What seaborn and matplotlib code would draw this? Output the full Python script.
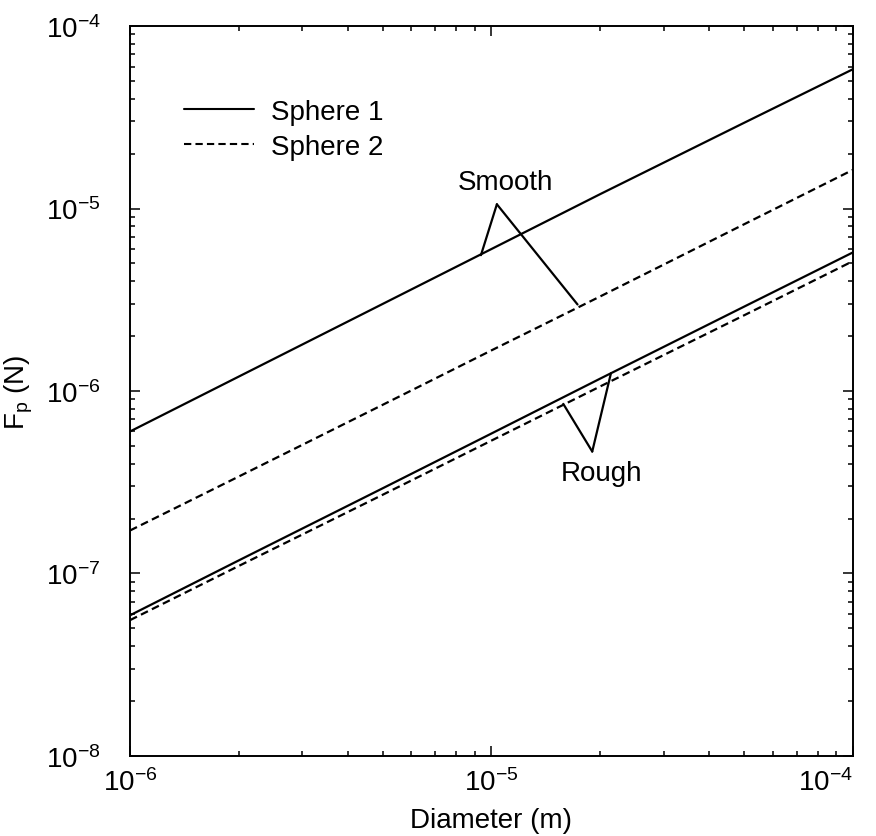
import numpy as np
import pandas as pd
import matplotlib
matplotlib.use('Agg')
from matplotlib import pyplot as plt
from matplotlib.lines import Line2D
import seaborn as sns

sns.set_style('ticks')
plt.rcParams['font.family'] = ['Liberation Sans', 'DejaVu Sans']
plt.rcParams['mathtext.fontset'] = 'custom'
plt.rcParams['mathtext.rm'] = 'Liberation Sans'
plt.rcParams['mathtext.it'] = 'Liberation Sans:italic'
plt.rcParams['text.color'] = 'black'
plt.rcParams['axes.labelcolor'] = 'black'
plt.rcParams['xtick.color'] = 'black'
plt.rcParams['ytick.color'] = 'black'

# values (diameter in m, force in N)
diameter = [1e-6, 2e-6, 5e-6, 1e-5, 2e-5, 5e-5, 1e-4]
smooth_sphere1 = [6.0e-7, 1.2e-6, 3.0e-6, 6.0e-6, 1.2e-5, 2.95e-5, 5.8e-5]
smooth_sphere2 = [1.72e-7, 3.4e-7, 8.4e-7, 1.67e-6, 3.3e-6, 8.2e-6, 1.63e-5]
rough_sphere1 = [5.9e-8, 1.18e-7, 2.93e-7, 5.85e-7, 1.17e-6, 2.9e-6, 5.75e-6]
rough_sphere2 = [5.55e-8, 1.1e-7, 2.7e-7, 5.35e-7, 1.06e-6, 2.6e-6, 5.15e-6]

sphere_names = ['Sphere 1', 'Sphere 2']
x_ticks = [1e-6, 1e-5, 1e-4]
x_ticklabels = [r'10$^{-6}$', r'10$^{-5}$', r'10$^{-4}$']
y_ticks = [1e-8, 1e-7, 1e-6, 1e-5, 1e-4]
y_ticklabels = [r'10$^{-8}$', r'10$^{-7}$', r'10$^{-6}$', r'10$^{-5}$', r'10$^{-4}$']

# annotation anchors (text position, apex of the leader lines, points on curves)
smooth_text = (1.09e-5, 1.39e-5)
smooth_apex = (1.035e-5, 1.055e-5)
smooth_targets = [(9.35e-6, 5.55e-6), (1.73e-5, 2.98e-6)]
rough_text = (2.01e-5, 3.57e-7)
rough_apex = (1.9e-5, 4.66e-7)
rough_targets = [(1.58e-5, 8.5e-7), (2.14e-5, 1.25e-6)]

rows = []
for surface, s1, s2 in [('smooth', smooth_sphere1, smooth_sphere2),
                        ('rough', rough_sphere1, rough_sphere2)]:
    for d, f in zip(diameter, s1):
        rows.append(dict(diameter=d, force=f, sphere='Sphere 1', surface=surface))
    for d, f in zip(diameter, s2):
        rows.append(dict(diameter=d, force=f, sphere='Sphere 2', surface=surface))
df = pd.DataFrame(rows)

fig = plt.figure(figsize=(8.76, 8.37), dpi=100)
ax = fig.add_axes([0.1484, 0.0956, 0.8253, 0.8721])

dash_map = {'Sphere 1': '', 'Sphere 2': (3.5, 2)}
sns.lineplot(data=df, x='diameter', y='force', style='sphere', units='surface',
             estimator=None, dashes=dash_map, color='black', linewidth=1.6,
             legend=False, ax=ax)

ax.set_xscale('log')
ax.set_yscale('log')
ax.set_xlim(1e-6, 1e-4)
ax.set_ylim(1e-8, 1e-4)
ax.set_xticks(x_ticks)
ax.set_xticklabels(x_ticklabels)
ax.set_yticks(y_ticks)
ax.set_yticklabels(y_ticklabels)
# last x label sits flush with the right spine in the original
ax.get_xticklabels()[-1].set_horizontalalignment('right')

for sp in ax.spines.values():
    sp.set_visible(True)
    sp.set_linewidth(1.4)
    sp.set_color('black')
ax.tick_params(which='both', direction='in', top=True, right=True, color='black')
ax.tick_params(which='major', length=7, width=1.1, labelsize=20)
ax.tick_params(which='minor', length=3.5, width=1.1)
ax.tick_params(axis='x', which='major', pad=9)
ax.tick_params(axis='y', which='major', pad=21)

ax.set_xlabel('Diameter (m)', fontsize=20, labelpad=8)
ax.set_ylabel(r'F$_\mathregular{p}$ (N)', fontsize=20, labelpad=8)

for label, apex, targets, pos in [('Smooth', smooth_apex, smooth_targets, smooth_text),
                                  ('Rough', rough_apex, rough_targets, rough_text)]:
    for t in targets:
        ax.annotate('', xy=t, xytext=apex,
                    arrowprops=dict(arrowstyle='-', lw=1.6, color='black',
                                    shrinkA=0, shrinkB=0))
    ax.text(pos[0], pos[1], label, fontsize=20, ha='center', va='center')

handles = [Line2D([], [], color='black', lw=1.5, linestyle='-'),
           Line2D([], [], color='black', lw=1.5, dashes=(3.5, 2))]
ax.legend(handles, sphere_names, loc='upper left', bbox_to_anchor=(0.06, 0.915),
          frameon=False, fontsize=20, handlelength=2.5, handletextpad=0.6,
          labelspacing=0.3, borderaxespad=0)

fig.savefig('out.png', dpi=100)
